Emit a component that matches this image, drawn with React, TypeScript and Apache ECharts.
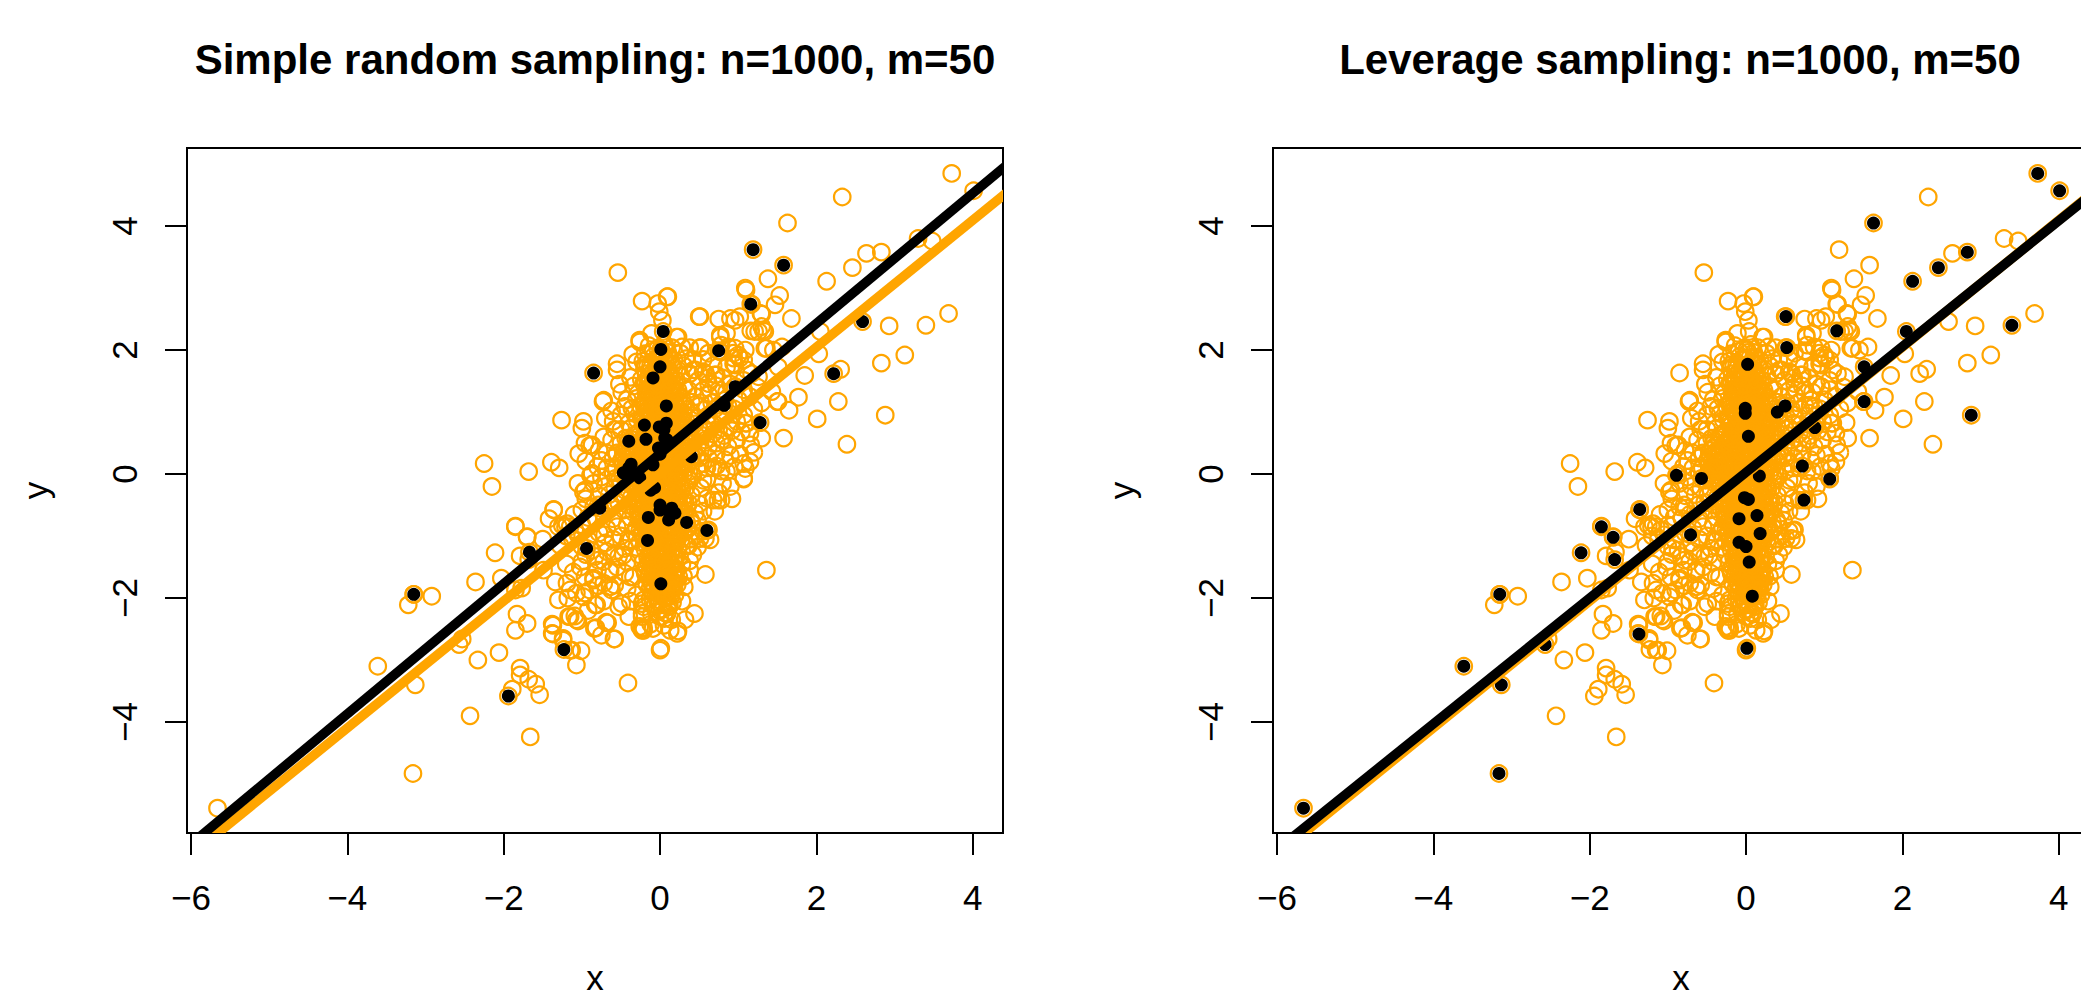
import React, { useEffect, useRef } from "react";
import * as echarts from "echarts";

const leftTitle = "Simple random sampling: n=1000, m=50";
const rightTitle = "Leverage sampling: n=1000, m=50";
const xTicks = [-6, -4, -2, 0, 2, 4];
const yTicks = [-4, -2, 0, 2, 4];

// straight fits, as end points
const leftBlackFit = [[-7, -7.02, 5.5, 6.105]];
const rightBlackFit = [[-7, -7.075, 5.5, 5.61]];
const orangeFit = [[-7, -7.168, 5.5, 5.632]];

// sampled points, left panel
const leftSample = [
  [-0.85,1.63],[1.19,3.62],[1.58,3.37],[1.16,2.74],[2.59,2.46],[2.22,1.62],[1.28,0.83],[0.75,1.99],
  [0.04,2.30],[0.01,2.01],[0.0,1.73],[-0.09,1.55],[0.08,1.10],[0.08,0.82],[-0.01,0.76],[-0.20,0.79],
  [-0.18,0.56],[-0.40,0.53],[0.06,0.58],[0.09,0.55],[0.0,0.32],[-0.37,0.16],[-0.47,0.02],[-0.09,0.15],
  [-0.26,-0.06],[0.40,0.28],[0.82,1.11],[0.96,1.41],[-0.07,-0.22],[-1.67,-1.26],[-0.94,-1.20],[-1.23,-2.83],
  [-1.94,-3.58],[-3.15,-1.94],[0.0,-0.50],[0.15,-0.55],[0.19,-0.63],[0.11,-0.74],[-0.15,-0.70],[0.0,-0.58],
  [0.34,-0.78],[0.60,-0.91],[-0.16,-1.07],[0.01,-1.77],[-0.12,-0.26],[-0.77,-0.55],[0.12,-0.60],[0.05,0.72],
  [-0.02,0.42],[-0.40,0.10],
];

// sampled points, right panel
const rightSample = [
  [-5.66,-5.39],[-3.16,-4.83],[-3.13,-3.40],[-3.61,-3.10],[-3.15,-1.94],[-2.57,-2.75],[-2.11,-1.27],[-1.36,-0.57],
  [-1.85,-0.85],[-1.70,-1.02],[-1.68,-1.38],[-1.37,-2.58],[-0.71,-0.98],[-0.89,-0.02],[-0.57,-0.07],[0.02,1.77],
  [-0.01,1.06],[-0.01,0.98],[0.03,0.61],[0.40,1.0],[0.50,1.10],[0.51,2.54],[0.52,2.04],[1.16,2.31],
  [1.51,1.73],[1.51,1.17],[0.88,0.75],[0.72,0.13],[0.17,-0.03],[1.07,-0.08],[0.74,-0.42],[-0.02,-0.38],
  [0.03,-0.41],[-0.09,-0.72],[0.14,-0.67],[0.18,-0.96],[-0.09,-1.10],[0.0,-1.17],[0.04,-1.42],[0.08,-1.97],
  [0.01,-2.81],[3.73,4.85],[4.01,4.57],[1.63,4.05],[2.83,3.58],[2.46,3.33],[2.13,3.11],[2.05,2.30],
  [3.40,2.40],[2.88,0.95],
];

// scattered points away from the dense core
const orangeOuter = [
  [-0.73,1.17],[-1.26,0.87],[-0.98,0.85],[-1.0,0.74],[-0.96,0.50],[-0.90,0.46],[-1.04,0.33],[-0.95,0.21],
  [-2.25,0.17],[-1.68,0.04],[-1.39,0.19],[-1.29,0.10],[-2.15,-0.20],[-0.87,0.01],[2.33,4.47],[-0.54,3.25],
  [1.38,3.15],[1.09,3.0],[2.64,3.56],[3.30,3.80],[3.48,3.76],[1.53,2.88],[1.47,2.73],[0.09,2.86],
  [-0.23,2.79],[-0.03,2.75],[-0.01,2.62],[0.03,2.48],[1.68,2.51],[1.29,2.59],[0.50,2.54],[0.75,2.50],
  [0.90,2.51],[1.02,2.54],[2.93,2.39],[3.69,2.59],[3.13,1.92],[2.83,1.79],[2.31,1.69],[2.03,1.94],
  [1.85,1.59],[1.77,1.24],[2.28,1.17],[1.50,1.17],[1.65,1.03],[2.01,0.89],[1.58,0.58],[2.39,0.48],
  [1.30,0.58],[1.16,0.47],[1.07,0.17],[1.09,0.09],[1.07,-0.07],[1.11,0.82],[1.15,0.66],[1.04,0.68],
  [1.43,1.33],[1.56,2.05],[1.34,2.03],[1.26,2.30],[1.32,2.32],[1.21,2.30],[0.77,2.21],[0.85,2.27],
  [0.94,1.95],[1.00,1.92],[0.94,1.78],[1.07,1.84],[0.51,2.04],[0.38,2.04],[0.21,2.21],[-0.26,2.13],
  [-0.26,2.16],[-0.55,1.78],[-0.55,1.68],[-0.38,1.56],[-0.72,1.19],[-0.49,1.32],[-0.58,0.72],[-0.68,0.34],
  [-0.87,0.47],[0.70,1.60],[0.43,1.68],[0.61,1.55],[0.55,1.65],[-0.30,1.81],[-0.19,1.76],[-0.45,1.09],
  [-0.11,2.27],[0.10,2.86],[1.10,2.97],[1.17,2.74],[1.30,2.58],[0.96,2.48],[1.30,2.38],[1.34,2.30],
  [0.77,2.24],[0.78,2.08],[0.77,1.97],[0.87,2.05],[0.96,2.03],[0.94,1.87],[1.02,1.87],[0.96,1.76],
  [1.09,2.0],[1.36,2.03],[1.45,2.0],[0.28,2.05],[0.23,2.21],[0.45,1.68],[0.72,1.60],[0.58,1.63],
  [0.62,1.46],[0.49,1.51],[0.36,1.36],[0.45,1.25],[0.62,1.28],[0.83,1.19],[0.96,1.41],[1.07,1.51],
  [1.17,1.62],[1.11,1.68],[1.26,1.57],[1.07,1.36],[0.87,1.09],[0.75,1.11],[0.81,0.98],[1.07,0.95],
  [1.09,0.82],[0.79,0.55],[0.87,0.44],[0.62,0.44],[0.55,0.17],[0.47,0.28],[0.72,0.33],[0.83,0.23],
  [0.85,0.04],[0.70,0.80],[0.62,0.95],[0.55,0.75],[0.58,0.55],[0.68,0.10],[0.60,-0.08],[0.52,-0.22],
  [0.92,-0.40],[0.68,-0.42],[0.60,-0.39],[0.75,-0.30],[0.62,-0.90],[0.58,-1.04],[0.64,-1.06],[0.51,-1.04],
  [0.36,-1.16],[0.45,-0.63],[0.41,-0.80],[0.36,-0.88],[1.36,-1.55],[0.58,-1.62],[0.38,-1.40],[0.44,-2.25],
  [0.31,-1.82],[0.23,-2.53],[0.22,-2.57],[0.13,-2.52],[0.0,-2.84],[-0.41,-3.37],[0.06,-2.33],[0.11,-2.14],
  [0.17,-1.84],[0.21,-1.55],[0.34,-1.15],[-0.09,-2.49],[-0.23,-2.52],[-0.24,-2.49],[-0.21,-2.48],[-0.26,-2.46],
  [-0.23,-2.25],[-0.23,-2.09],[-0.21,-2.03],[-0.06,-2.11],[-0.38,-1.66],[-0.64,-1.58],[-0.47,-1.31],[-0.72,-1.41],
  [-0.64,-1.82],[-0.85,-1.68],[-0.83,-1.33],[-0.58,-1.28],[-0.59,-2.66],[-0.82,-2.48],[-0.69,-2.39],[-0.83,-2.11],
  [-0.53,-2.14],[-0.49,-2.09],[-3.22,-2.11],[-2.92,-1.97],[-2.53,-2.66],[-2.43,-3.90],[-2.33,-3.0],[-2.06,-2.88],
  [-2.36,-1.74],[-2.03,-1.68],[-1.85,-0.84],[-1.70,-1.01],[-1.50,-1.05],[-1.79,-1.32],[-1.85,-1.87],[-1.77,-1.84],
  [-1.49,-1.55],[-1.83,-2.26],[-1.70,-2.41],[-1.85,-2.52],[-1.79,-3.13],[-1.79,-3.24],[-1.68,-3.31],[-1.59,-3.39],
  [-1.54,-3.56],[-1.89,-3.47],[-1.66,-4.24],[-1.07,-3.08],[-1.01,-2.85],[-1.15,-2.84],[-1.24,-2.65],[-1.38,-2.57],
  [-1.38,-2.42],[-1.17,-2.30],[-1.09,-2.29],[-1.07,-2.35],[-0.84,-2.49],[-1.30,-2.03],[-1.34,-1.74],[-1.19,-1.76],
  [-1.11,-1.58],[-1.02,-1.50],[-0.96,-1.66],[-0.85,-1.71],[-1.15,-1.87],[-1.07,-1.92],[-0.98,-1.98],[-0.90,-1.87],
  [-1.36,-0.58],[-1.30,-0.85],[-1.19,-0.80],[-1.25,-0.83],[-1.21,-0.85],[-1.15,-0.85],[-1.09,-0.90],[-1.0,-0.82],
  [-0.92,-1.06],[-1.0,-1.17],[-0.87,-1.23],[-1.28,-1.15],[-0.85,-0.53],[-0.79,-0.50],[-0.96,-0.26],[-0.98,-0.29],
  [-1.0,-1.41],[-0.79,-1.39],[-0.64,-1.55],[-0.72,-1.76],[-0.58,-1.79],[-0.80,-1.80],[-0.96,-1.92],[-0.62,-1.87],
  [-0.34,-1.66],[-0.19,-1.60],[-0.53,-1.33],[-0.41,-1.09],[-0.70,-1.11],[-0.21,-2.14],[-0.23,-2.30],[-0.21,-2.52],
  [-1.15,-2.30],[-1.05,-2.37],[-1.37,-2.44],[-1.24,-2.68],[-1.13,-2.84],[-0.67,-2.40],[-0.58,-2.66],[-0.81,-2.11],
];

// the flanks of the cloud, between the scattered points and the solid middle
const orangeFlank = [
  [-0.35,1.93],[0.26,1.95],[0.33,1.86],[0.3,1.75],[0.38,1.62],
  [-0.34,1.42],[-0.52,1.45],[-0.42,1.2],[-0.62,1.02],[-0.5,0.95],
  [-0.7,0.9],[-0.6,0.85],[-0.5,0.72],[-0.72,0.6],[-0.62,0.55],[-0.78,0.38],
  [-0.75,0.22],[-0.68,0.1],[-0.8,0.12],[-0.75,-0.05],[-0.7,-0.2],[-0.85,-0.15],[-0.65,-0.33],[-0.78,-0.35],
  [-0.62,-0.5],[-0.72,-0.65],[-0.6,-0.72],[-0.82,-0.72],[-0.55,-0.85],[-0.68,-0.88],[-0.78,-0.95],[-0.5,-1.0],
  [-0.6,-1.05],[-0.45,-1.2],[-0.68,-1.25],[-0.42,-1.42],[-0.55,-1.5],[-0.45,-1.6],
  [-0.42,-1.85],[-0.3,-1.95],[-0.38,-2.05],[-0.4,-2.3],
  [-0.12,-2.42],[0.05,-2.44],[0.15,-2.35],[0.28,-2.05],[0.3,-1.65],[0.38,-1.55],
  [0.28,-1.45],[0.42,-1.3],[0.48,-1.18],[0.45,-1.0],[0.55,-0.92],[0.48,-0.75],[0.55,-0.6],[0.5,-0.48],
  [0.5,0.05],[0.6,0.1],[0.55,-0.1],[0.62,0.25],[0.55,0.35],[0.72,0.5],[0.68,0.65],[0.55,0.62],[0.6,0.82],[0.48,0.9],
  [0.58,1.05],[0.7,1.05],[0.52,1.15],[0.66,1.15],[0.75,1.3],[0.55,1.35],[0.85,1.32],[0.9,1.45],[0.72,1.42],[0.8,1.55],
  [0.85,1.72],[0.68,1.75],[0.55,1.85],[0.62,1.95],[0.42,1.85],[0.75,0.72],[0.82,0.62],[0.92,0.7],[0.98,0.55],[0.9,0.3],
  [0.95,0.12],[0.78,0.05],[0.8,-0.15],[0.9,-0.2],[0.95,1.05],[1.0,1.2],[1.15,1.25],[1.2,1.05],[1.25,1.4],[1.3,1.15],
  [0.98,0.85],[1.2,0.35],[1.15,0.2],[1.02,0.32],[0.78,-0.42],[0.7,-0.6],[-0.95,-1.3],[-1.2,-1.45],
  [-0.8,-1.55],[-1.18,-2.0],[-0.92,-2.2],[-0.72,-2.05],
  [-0.75,-2.6],[-1.12,-1.05],[-1.2,-1.0],[-1.05,-0.98],
  [-1.42,-0.72],[-1.1,-0.65],[-1.0,-0.58],[-0.92,-0.7],[-0.95,-0.4],[-1.05,-0.15],[0.4,-1.05],[0.32,-2.35],
];

// the dense, overlapping middle of the cloud: each row estimated across its solid width
const orangeCore = [
  [-0.14,2.07],[-0.03,2.02],[0.06,2.09],[0.15,2.04],[-0.19,1.94],[-0.08,1.90],[0.02,1.96],[0.11,1.89],
  [-0.22,1.82],[-0.12,1.77],[-0.02,1.84],[0.07,1.78],[0.18,1.83],[-0.2,1.70],[-0.09,1.65],[0.01,1.71],
  [0.12,1.66],[0.22,1.69],[-0.24,1.53],[-0.14,1.58],[-0.04,1.52],[0.05,1.57],[0.15,1.54],[0.27,1.58],
  [-0.21,1.46],[-0.1,1.41],[0.0,1.47],[0.09,1.42],[0.19,1.45],[0.31,1.41],[-0.28,1.30],[-0.17,1.35],
  [-0.07,1.29],[0.03,1.34],[0.13,1.31],[0.23,1.35],[-0.3,1.22],[-0.2,1.17],[-0.11,1.23],[-0.01,1.18],
  [0.08,1.22],[0.18,1.17],[0.28,1.21],[0.4,1.16],[-0.36,1.06],[-0.25,1.10],[-0.15,1.05],[-0.05,1.11],
  [0.05,1.06],[0.14,1.09],[0.24,1.05],[0.33,1.10],[-0.33,0.98],[-0.22,0.93],[-0.12,0.99],[-0.02,0.94],
  [0.1,0.97],[0.2,0.93],[0.3,0.98],[0.42,0.94],[-0.4,0.82],[-0.29,0.87],[-0.18,0.81],[-0.08,0.86],
  [0.02,0.83],[0.12,0.87],[0.22,0.82],[0.33,0.86],[0.45,0.81],[-0.37,0.74],[-0.26,0.69],[-0.15,0.75],
  [-0.05,0.70],[0.06,0.73],[0.17,0.69],[0.27,0.74],[0.38,0.70],[0.5,0.73],[-0.44,0.58],[-0.33,0.63],
  [-0.22,0.57],[-0.11,0.62],[0.0,0.59],[0.1,0.63],[0.2,0.58],[0.31,0.62],[0.42,0.57],[-0.5,0.50],
  [-0.39,0.46],[-0.28,0.51],[-0.17,0.45],[-0.06,0.50],[0.05,0.47],[0.15,0.51],[0.26,0.46],[0.37,0.49],
  [0.48,0.45],[-0.55,0.34],[-0.45,0.38],[-0.34,0.33],[-0.23,0.39],[-0.12,0.34],[-0.01,0.37],[0.09,0.33],
  [0.2,0.38],[0.31,0.34],[0.43,0.37],[-0.6,0.26],[-0.49,0.22],[-0.38,0.27],[-0.27,0.21],[-0.16,0.26],
  [-0.05,0.23],[0.05,0.27],[0.16,0.22],[0.27,0.25],[0.39,0.21],[0.5,0.26],[-0.56,0.10],[-0.44,0.14],
  [-0.33,0.09],[-0.21,0.15],[-0.1,0.10],[0.01,0.13],[0.11,0.09],[0.22,0.14],[0.34,0.10],[-0.6,0.02],
  [-0.48,-0.02],[-0.37,0.03],[-0.25,-0.03],[-0.14,0.02],[-0.03,-0.01],[0.08,0.03],[0.19,-0.02],[0.31,0.02],
  [0.42,-0.03],[-0.52,-0.10],[-0.41,-0.14],[-0.3,-0.09],[-0.18,-0.15],[-0.07,-0.10],[0.04,-0.13],[0.15,-0.09],
  [0.27,-0.14],[0.38,-0.10],[-0.58,-0.22],[-0.45,-0.26],[-0.34,-0.21],[-0.22,-0.27],[-0.11,-0.22],[0.0,-0.25],
  [0.11,-0.21],[0.22,-0.26],[0.33,-0.22],[-0.49,-0.34],[-0.37,-0.38],[-0.26,-0.33],[-0.15,-0.39],[-0.04,-0.34],
  [0.07,-0.37],[0.18,-0.33],[0.29,-0.38],[0.4,-0.34],[-0.53,-0.46],[-0.41,-0.50],[-0.3,-0.45],[-0.19,-0.51],
  [-0.08,-0.46],[0.03,-0.49],[0.14,-0.45],[0.25,-0.50],[0.36,-0.46],[-0.46,-0.58],[-0.34,-0.62],[-0.23,-0.57],
  [-0.12,-0.63],[-0.01,-0.58],[0.1,-0.61],[0.21,-0.57],[0.32,-0.62],[-0.38,-0.70],[-0.27,-0.74],[-0.16,-0.69],
  [-0.05,-0.75],[0.06,-0.70],[0.17,-0.73],[0.28,-0.69],[0.39,-0.74],[-0.42,-0.82],[-0.3,-0.86],[-0.2,-0.81],
  [-0.09,-0.87],[0.02,-0.82],[0.13,-0.85],[0.24,-0.81],[0.34,-0.86],[-0.33,-0.94],[-0.23,-0.98],[-0.12,-0.93],
  [-0.02,-0.99],[0.09,-0.94],[0.2,-0.97],[0.3,-0.93],[-0.37,-1.06],[-0.26,-1.10],[-0.15,-1.05],[-0.05,-1.11],
  [0.05,-1.06],[0.16,-1.09],[0.27,-1.05],[-0.3,-1.18],[-0.19,-1.22],[-0.08,-1.17],[0.02,-1.23],[0.12,-1.18],
  [0.23,-1.21],[-0.27,-1.30],[-0.16,-1.34],[-0.06,-1.29],[0.04,-1.35],[0.14,-1.30],[0.25,-1.33],[-0.22,-1.42],
  [-0.12,-1.46],[-0.02,-1.41],[0.08,-1.47],[0.18,-1.42],[-0.2,-1.54],[-0.09,-1.58],[0.01,-1.53],[0.11,-1.59],
  [0.21,-1.54],[-0.15,-1.66],[-0.05,-1.70],[0.05,-1.65],[0.15,-1.71],[0.24,-1.66],[-0.17,-1.78],[-0.07,-1.82],
  [0.03,-1.77],[0.13,-1.83],[0.22,-1.78],[-0.1,-1.90],[0.0,-1.94],[0.1,-1.89],[0.19,-1.95],[-0.13,-2.02],
  [-0.03,-2.06],[0.07,-2.01],[0.16,-2.07],[-0.08,-2.14],[0.02,-2.18],[0.12,-2.13],[-0.11,-2.26],[0.0,-2.30],
  [0.09,-2.25],
];

// more of the same middle, sitting between the rows above
const orangeCoreInner = [
  [-0.09,1.98],[0.01,2.0],[0.1,1.96],[-0.05,1.86],[0.05,1.88],[0.14,1.84],[-0.16,1.74],[-0.05,1.75],
  [0.05,1.72],[0.16,1.75],[-0.18,1.62],[-0.07,1.60],[0.03,1.63],[0.13,1.60],[-0.19,1.50],[-0.09,1.49],[0.02,1.51],
  [0.1,1.48],[0.21,1.51],[-0.14,1.37],[-0.03,1.39],[0.06,1.37],[0.16,1.38],[-0.14,1.27],[-0.04,1.25],[0.06,1.27],
  [0.15,1.25],[0.25,1.27],[-0.2,1.12],[-0.1,1.14],[0,1.12],[0.1,1.14],[0.2,1.12],[-0.17,1.00],[-0.07,1.02],[0.03,1.00],
  [0.15,1.02],[0.25,1.00],[-0.24,0.90],[-0.13,0.92],[-0.03,0.90],[0.07,0.92],[0.17,0.89],
  [0.28,0.91],[-0.21,0.78],[-0.1,0.80],[0,0.78],[0.11,0.79],[0.22,0.76],[0.32,0.79],
  [-0.28,0.65],[-0.17,0.67],[-0.06,0.65],[0.05,0.67],[0.15,0.64],[0.26,0.66],[0.36,0.64],
  [-0.34,0.55],[-0.22,0.52],[-0.11,0.54],[0,0.53],[0.1,0.55],[0.21,0.52],[0.32,0.54],
  [-0.42,0.42],[-0.31,0.43],[-0.2,0.41],[-0.09,0.43],[0.02,0.41],[0.12,0.43],[0.23,0.41],
  [0.34,0.42],[-0.46,0.29],[-0.36,0.30],[-0.25,0.28],[-0.14,0.30],[-0.03,0.28],[0.07,0.30],
  [0.18,0.28],[0.29,0.30],[0.41,0.28],[-0.47,0.16],[-0.35,0.18],[-0.24,0.16],[-0.13,0.18],[-0.02,0.16],
  [0.08,0.18],[0.19,0.16],[0.3,0.18],[-0.43,0.06],[-0.31,0.04],[-0.19,0.06],[-0.08,0.04],
  [0.05,0.06],[0.14,0.04],[0.26,0.06],[0.37,0.04],[-0.44,-0.07],[-0.32,-0.05],[-0.21,-0.07],[-0.1,-0.05],
  [0.01,-0.07],[0.12,-0.05],[0.24,-0.07],[0.35,-0.05],[-0.32,-0.17],[-0.2,-0.20],[-0.09,-0.17],
  [0.02,-0.19],[0.13,-0.16],[0.25,-0.20],[-0.29,-0.28],[-0.18,-0.32],[-0.07,-0.29],
  [0.04,-0.31],[0.15,-0.28],[0.26,-0.32],[-0.34,-0.43],[-0.23,-0.40],[-0.12,-0.44],[-0.01,-0.40],
  [0.1,-0.43],[0.21,-0.40],[0.32,-0.44],[-0.32,-0.55],[-0.21,-0.52],[-0.1,-0.56],[0.01,-0.52],[0.12,-0.55],
  [0.23,-0.52],[-0.25,-0.67],[-0.14,-0.64],[-0.03,-0.68],[0.08,-0.64],[0.19,-0.67],[0.3,-0.64],
  [-0.24,-0.79],[-0.13,-0.76],[-0.02,-0.80],[0.09,-0.76],[0.2,-0.79],[-0.26,-0.91],
  [-0.15,-0.88],[-0.05,-0.92],[0.06,-0.88],[0.17,-0.91],[0.27,-0.88],[-0.2,-1.03],[-0.09,-1.00],[0.01,-1.04],
  [0.12,-1.00],[0.23,-1.03],[-0.17,-1.15],[-0.06,-1.12],[0.04,-1.16],[0.14,-1.12],[-0.13,-1.27],[-0.03,-1.24],[0.07,-1.28],[0.18,-1.24],[-0.1,-1.40],[0,-1.36],[0.1,-1.39],[0.2,-1.36],
  [-0.17,-1.49],[-0.06,-1.52],[0.04,-1.48],[0.14,-1.51],[-0.14,-1.61],[-0.03,-1.64],[0.07,-1.60],[0.17,-1.62],[-0.12,-1.73],
  [-0.02,-1.75],[0.08,-1.72],[0.18,-1.75],[-0.13,-1.85],[-0.03,-1.87],[0.07,-1.84],[0.16,-1.86],[-0.06,-1.97],[0.05,-2.0],
  [0.14,-1.97],[-0.09,-2.08],[0.02,-2.11],[0.11,-2.08],[-0.04,-2.22],[0.06,-2.24],
];

// the tight vertical column at x near 0 and the tight centre, where nothing shows through
const orangeColumn = [
  [-0.16,1.44],[-0.05,1.43],[0.05,1.45],[0.14,1.43],[-0.18,1.31],[-0.09,1.33],[0.01,1.30],[0.11,1.33],[0.2,1.30],
  [-0.15,1.20],[-0.05,1.19],[0.04,1.20],[0.14,1.19],[0.24,1.19],[-0.2,1.07],[-0.09,1.08],[0.01,1.06],[0.11,1.08],[0.21,1.07],
  [-0.15,0.96],[-0.05,0.97],[0.06,0.96],[0.17,0.97],[-0.2,0.85],[-0.1,0.84],[0.0,0.86],[0.1,0.84],[0.2,0.86],[0.3,0.84],
  [-0.16,0.72],[-0.06,0.73],[0.03,0.71],[0.13,0.72],[0.24,0.71],[-0.2,0.60],[-0.08,0.60],[0.04,0.60],[0.15,0.60],[0.27,0.59],
  [-0.26,0.47],[-0.14,0.48],[-0.03,0.47],[0.08,0.48],[0.19,0.47],[0.3,0.47],[-0.4,0.35],[-0.29,0.36],[-0.17,0.36],[-0.06,0.35],
  [0.04,0.36],[0.15,0.35],[0.26,0.36],[-0.43,0.24],[-0.32,0.24],[-0.21,0.23],[-0.1,0.24],[0.01,0.23],[0.11,0.24],[0.22,0.23],
  [0.33,0.24],[-0.38,0.12],[-0.27,0.12],[-0.16,0.13],[-0.05,0.12],[0.06,0.13],[0.17,0.11],[0.28,0.12],[-0.36,-0.01],[-0.2,0.0],
  [-0.09,-0.01],[0.03,0.0],[0.13,-0.01],[0.25,0.0],[-0.36,-0.11],[-0.25,-0.12],[-0.13,-0.11],[-0.02,-0.12],[0.09,-0.11],[0.21,-0.12],
  [-0.28,-0.23],[-0.16,-0.23],[-0.05,-0.23],[0.06,-0.24],[0.17,-0.23],[0.28,-0.24],[-0.24,-0.35],[-0.1,-0.36],[0.01,-0.35],[0.12,-0.36],
  [0.23,-0.35],[-0.25,-0.47],[-0.14,-0.48],[-0.03,-0.47],[0.08,-0.48],[0.19,-0.47],[0.3,-0.48],[-0.28,-0.6],[-0.17,-0.59],[-0.06,-0.6],
  [0.05,-0.59],[0.16,-0.6],[0.27,-0.59],[-0.2,-0.72],[-0.08,-0.71],[0.02,-0.72],[0.13,-0.71],[0.24,-0.72],[-0.18,-0.84],[-0.06,-0.83],
  [0.05,-0.84],[0.16,-0.83],[0.28,-0.84],[-0.18,-0.95],[-0.07,-0.96],[0.04,-0.95],[0.15,-0.96],[-0.14,-1.07],[-0.02,-1.08],[0.08,-1.07],
  [0.2,-1.08],[-0.12,-1.2],[-0.02,-1.19],[0.08,-1.2],[0.18,-1.19],[-0.11,-1.33],[-0.01,-1.32],[0.09,-1.33],[0.2,-1.32],[-0.15,-1.43],
  [-0.05,-1.44],[0.05,-1.43],[0.14,-1.44],[-0.12,-1.55],[-0.02,-1.56],[0.08,-1.55],[0.17,-1.56],[-0.09,-1.68],[0.01,-1.67],[0.11,-1.68],
  [0.2,-1.68],[-0.1,-1.79],[0.0,-1.8],[0.1,-1.79],[0.18,-1.8],[-0.03,-1.91],[0.06,-1.92],[0.15,-1.91],
];

const orangeAll = [...orangeOuter, ...orangeFlank, ...orangeCore, ...orangeCoreInner, ...orangeColumn, ...leftSample, ...rightSample];

const FONT = "Liberation Sans";
const ORANGE = "#FFA500";

function fmt(v: number) {
  return String(v).replace("-", "\u2212");
}

function panelAxes(grid: number) {
  return {
    x: {
      type: "value", gridIndex: grid, min: -6.05, max: 4.386, scale: true,
      name: "x", nameLocation: "middle", nameGap: 130,
      nameTextStyle: { fontFamily: FONT, fontSize: 35, lineHeight: 28, color: "#000" },
      axisLine: { show: false, onZero: false },
      axisTick: { show: true, length: 22, inside: false, customValues: xTicks, lineStyle: { color: "#000", width: 2 } },
      axisLabel: { show: true, customValues: xTicks, formatter: fmt, margin: 47, fontFamily: FONT, fontSize: 35, color: "#000" },
      splitLine: { show: false },
    },
    y: {
      type: "value", gridIndex: grid, min: -5.79, max: 5.26, scale: true,
      name: "y", nameLocation: "middle", nameGap: 134, nameRotate: 90,
      nameTextStyle: { fontFamily: FONT, fontSize: 35, color: "#000" },
      axisLine: { show: false, onZero: false },
      axisTick: { show: true, length: 22, customValues: yTicks, lineStyle: { color: "#000", width: 2 } },
      axisLabel: { show: true, customValues: yTicks, formatter: fmt, rotate: 90, margin: 45, fontFamily: FONT, fontSize: 35, color: "#000" },
      splitLine: { show: false },
    },
  };
}

function fitSeries(idx: number, data: number[][], color: string, z: number) {
  return {
    type: "custom", xAxisIndex: idx, yAxisIndex: idx, silent: true, z, clip: true, data,
    encode: { x: [0, 2], y: [1, 3] },
    renderItem: (_p: any, api: any) => {
      const a = api.coord([api.value(0), api.value(1)]);
      const b = api.coord([api.value(2), api.value(3)]);
      return {
        type: "line",
        shape: { x1: a[0], y1: a[1], x2: b[0], y2: b[1] },
        style: { stroke: color, lineWidth: 9.5, fill: "none" },
      };
    },
  };
}

function panelSeries(idx: number, sample: number[][], blackFit: number[][]) {
  const base = { xAxisIndex: idx, yAxisIndex: idx, silent: true };
  return [
    {
      ...base, type: "scatter", data: orangeAll, symbol: "circle", symbolSize: 16.5, z: 2, large: false,
      itemStyle: { color: "transparent", borderColor: ORANGE, borderWidth: 2.2, opacity: 1 },
    },
    {
      ...base, type: "scatter", data: sample, symbol: "circle", symbolSize: 13, z: 3,
      itemStyle: { color: "#000", borderWidth: 0, opacity: 1 },
    },
    fitSeries(idx, orangeFit, ORANGE, 4),
    fitSeries(idx, blackFit, "#000", 5),
  ];
}

export default function App() {
  const ref = useRef<HTMLDivElement>(null);
  useEffect(() => {
    const chart = echarts.init(ref.current!, undefined, { renderer: "svg" });
    const a = panelAxes(0);
    const b = panelAxes(1);
    const titleStyle = { fontFamily: FONT, fontSize: 42, fontWeight: "bold", color: "#000" };
    chart.setOption({
      animation: false,
      backgroundColor: "#fff",
      title: [
        { text: leftTitle, left: 590, top: 33, textAlign: "center", textStyle: titleStyle },
        { text: rightTitle, left: 1675, top: 33, textAlign: "center", textStyle: titleStyle },
      ],
      grid: [
        { left: 187, top: 148, width: 816, height: 685, show: true, outerBoundsMode: "none", borderColor: "#000", borderWidth: 2, backgroundColor: "transparent" },
        { left: 1273, top: 148, width: 816, height: 685, show: true, outerBoundsMode: "none", borderColor: "#000", borderWidth: 2, backgroundColor: "transparent" },
      ],
      xAxis: [a.x, b.x],
      yAxis: [a.y, b.y],
      series: [...panelSeries(0, leftSample, leftBlackFit), ...panelSeries(1, rightSample, rightBlackFit)],
    });
    return () => chart.dispose();
  }, []);
  return <div ref={ref} style={{ position: "absolute", left: 0, top: 0, width: 2081, height: 997, overflow: "hidden" }} />;
}
